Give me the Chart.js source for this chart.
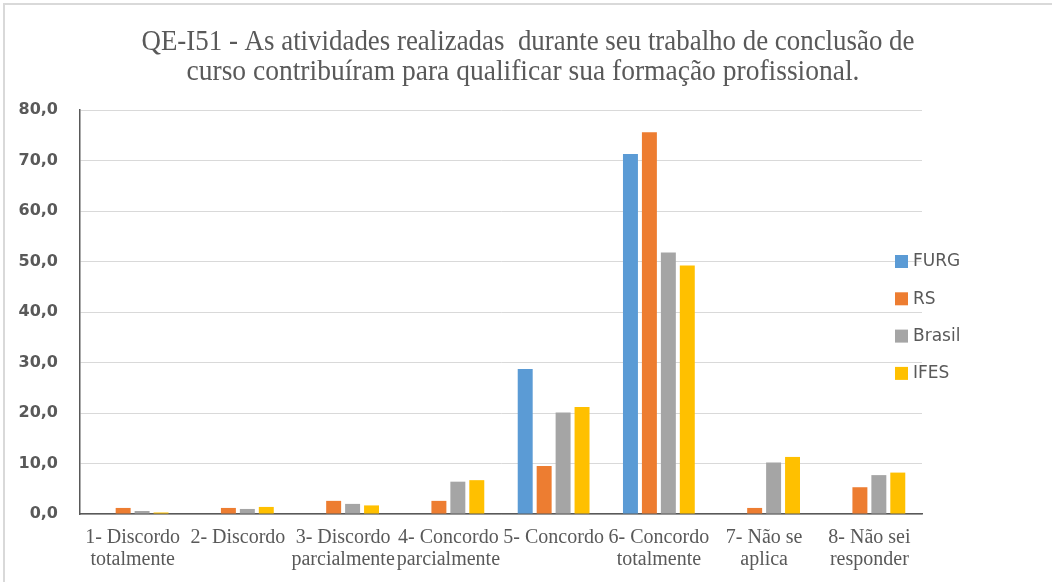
<!DOCTYPE html>
<html>
<head>
<meta charset="utf-8">
<script src="https://cdn.jsdelivr.net/npm/chart.js@4.4.1/dist/chart.umd.min.js"></script>
<style>
  html, body { margin: 0; padding: 0; background: #ffffff; }
  #frame { position: absolute; left: 3px; top: 3px; width: 1049px; height: 579px;
           border-top: 2px solid #d9d9d9; border-left: 2px solid #d9d9d9; box-sizing: border-box; }
  #wrap { position: absolute; left: 0; top: 0; width: 1052px; height: 582px; }
</style>
</head>
<body>
<div id="frame"></div>
<div id="wrap"><canvas id="c" width="1052" height="582"></canvas></div>
<script>
const titleLines = [
  "QE-I51 - As atividades realizadas  durante seu trabalho de conclusão de",
  "curso contribuíram para qualificar sua formação profissional."
];
const categories = [
  ["1- Discordo", "totalmente"],
  ["2- Discordo"],
  ["3- Discordo", "parcialmente"],
  ["4- Concordo", "parcialmente"],
  ["5- Concordo"],
  ["6- Concordo", "totalmente"],
  ["7- Não se", "aplica"],
  ["8- Não sei", "responder"]
];
const seriesNames = ["FURG", "RS", "Brasil", "IFES"];
const seriesColors = ["#5B9BD5", "#ED7D31", "#A5A5A5", "#FFC000"];
const furg   = [0, 0, 0, 0, 28.7, 71.3, 0, 0];
const rs     = [1.2, 1.2, 2.6, 2.6, 9.5, 75.6, 1.2, 5.3];
const brasil = [0.6, 1.0, 2.0, 6.4, 20.1, 51.8, 10.2, 7.7];
const ifes   = [0.3, 1.4, 1.7, 6.7, 21.2, 49.2, 11.3, 8.2];
const yTickLabels = ["0,0", "10,0", "20,0", "30,0", "40,0", "50,0", "60,0", "70,0", "80,0"];

const seriesValues = [furg, rs, brasil, ifes];

const titlePlugin = {
  id: 'serifTitle',
  afterDraw(chart) {
    const ctx = chart.ctx;
    ctx.save();
    ctx.fillStyle = '#595959';
    ctx.font = '29px "Liberation Serif"';
    ctx.textAlign = 'center';
    ctx.textBaseline = 'alphabetic';
    const widths = [773, 673];
    const ys = [50, 80];
    const xs = [528, 523];
    titleLines.forEach((t, i) => {
      ctx.fillText(t, xs[i], ys[i], widths[i]);
    });
    ctx.restore();
  }
};

const legendPlugin = {
  id: 'sideLegend',
  afterDraw(chart) {
    const ctx = chart.ctx;
    ctx.save();
    ctx.font = '17px "DejaVu Sans"';
    ctx.textBaseline = 'middle';
    ctx.textAlign = 'left';
    chart.data.datasets.forEach((ds, i) => {
      const cy = 261 + i * 37.3;
      ctx.fillStyle = ds.backgroundColor;
      ctx.fillRect(895, cy - 6, 13, 13);
      ctx.fillStyle = '#595959';
      ctx.fillText(ds.label, 913, cy + 1);
    });
    ctx.restore();
  }
};

const bgPlugin = {
  id: 'bg',
  beforeDraw(chart) {
    const ctx = chart.ctx;
    ctx.save();
    ctx.fillStyle = '#ffffff';
    ctx.fillRect(5, 5, chart.width - 5, chart.height - 5);
    ctx.restore();
  }
};

new Chart(document.getElementById('c'), {
  type: 'bar',
  data: {
    labels: categories,
    datasets: seriesNames.map((n, i) => ({
      label: n,
      data: seriesValues[i],
      backgroundColor: seriesColors[i],
      borderWidth: 0,
      categoryPercentage: 0.72,
      barPercentage: 0.79
    }))
  },
  options: {
    responsive: false,
    animation: false,
    devicePixelRatio: 1,
    layout: { padding: { top: 110, right: 130, left: 0, bottom: 0 } },
    plugins: {
      legend: { display: false },
      title: { display: false },
      tooltip: { enabled: false }
    },
    scales: {
      x: {
        grid: { display: false, drawTicks: false },
        border: { display: true, color: '#595959', width: 1.5 },
        ticks: {
          autoSkip: false,
          maxRotation: 0,
          minRotation: 0,
          padding: 13,
          color: '#595959',
          font: { family: '"Liberation Serif"', size: 20, lineHeight: 1.1 }
        },
        afterFit(scale) { scale.height = 68; }
      },
      y: {
        min: 0,
        max: 80,
        grid: { color: '#d9d9d9', lineWidth: 1, drawTicks: false },
        border: { display: true, color: '#595959', width: 1.5 },
        ticks: {
          stepSize: 10,
          padding: 22,
          color: '#595959',
          font: { family: '"DejaVu Sans"', size: 16, weight: 'bold' },
          callback: (v) => yTickLabels[Math.round(v / 10)]
        },
        afterFit(scale) { scale.width = 80; }
      }
    }
  },
  plugins: [bgPlugin, titlePlugin, legendPlugin]
});
</script>
</body>
</html>
